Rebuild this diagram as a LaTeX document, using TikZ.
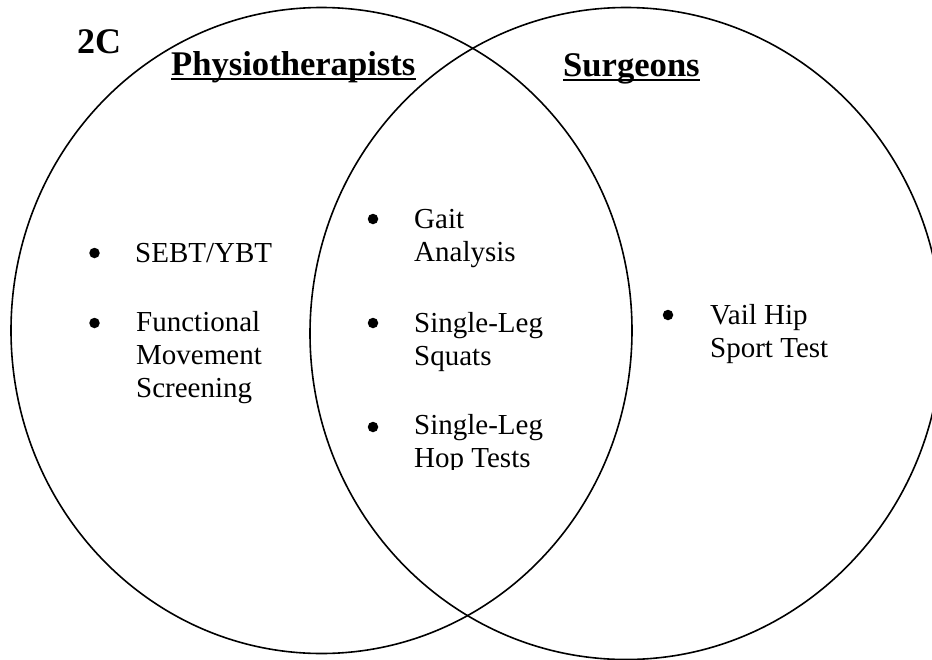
\documentclass[tikz,border=0pt]{standalone}
\usepackage{fontspec}
\setmainfont{Liberation Serif}
\begin{document}
\begin{tikzpicture}[x=1pt,y=-1pt,
  ring/.style={draw=black,line width=1.6pt},
  body/.style={inner sep=0pt,anchor=base west,align=left,font=\fontsize{29}{32.8}\selectfont},
  dot/.style={circle,fill=black,inner sep=0pt,minimum size=10.5pt},
  head/.style={inner sep=0pt,anchor=base west,font=\fontsize{34.6}{40}\selectfont\bfseries},
  uline/.style={line width=2pt}]
\useasboundingbox (0,0) rectangle (932,659);
\clip (0,0) rectangle (932,659);
\fill[white] (0,0) rectangle (932,659);
\draw[ring] (321.5,330.5) ellipse [x radius=310.5pt, y radius=323pt];
\draw[ring] (626,333.5) ellipse [x radius=316pt, y radius=326pt];
\node[inner sep=0pt,anchor=base west,font=\fontsize{36}{40}\selectfont\bfseries] (lab) at (77,53) {2C};
\node[head] (phys) at (171,75) {Physiotherapists};
\node[head] (surg) at (563,76) {Surgeons};
\draw[uline] ([yshift=-3.5pt]phys.base west) -- ([yshift=-3.5pt]phys.base east);
\draw[uline] ([yshift=-3.5pt]surg.base west) -- ([yshift=-3.5pt]surg.base east);
% left
\node[dot] (b1) at (94.5,253) {};
\node[body] (t1) at (135,262) {SEBT/YBT};
\node[dot] (b2) at (94.5,323) {};
\node[body] (t2) at (136,397) {Functional\\Movement\\Screening};
% middle
\node[dot] (b3) at (373,219) {};
\node[body] (t3) at (414,261) {Gait\\Analysis};
\node[dot] (b4) at (373,323) {};
\node[body] (t4) at (414,365) {Single-Leg\\Squats};
\node[dot] (b5) at (373,427) {};
\begin{scope}
\clip (330,380) rectangle (640,469);
\node[body] (t5) at (414,467) {Single-Leg\\Hop Tests};
\end{scope}
% right
\node[dot] (b6) at (668,315) {};
\node[body] (t6) at (710,357) {Vail Hip\\Sport Test};
\end{tikzpicture}
\end{document}
